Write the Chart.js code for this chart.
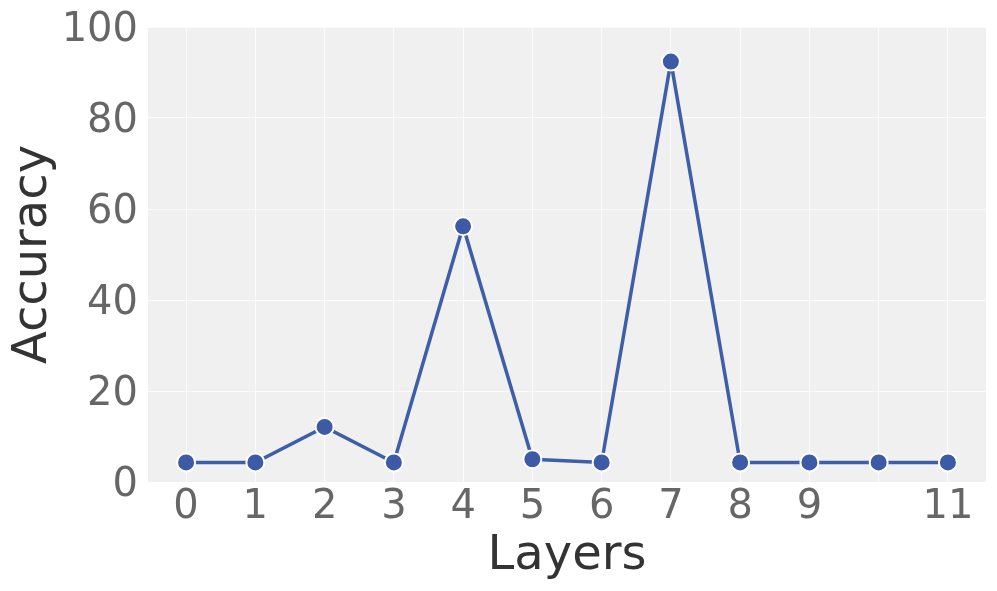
<!DOCTYPE html>
<html>
<head>
<meta charset="utf-8">
<script src="https://cdn.jsdelivr.net/npm/chart.js@4.4.0/dist/chart.umd.min.js"></script>
<style>
  html, body { margin: 0; padding: 0; background: #fff; }
  #wrap { width: 997px; height: 591px; position: relative; }
</style>
</head>
<body>
<div id="wrap"><canvas id="chart"></canvas></div>
<script>
/* ── data ── */
const layers   = [0, 1, 2, 3, 4, 5, 6, 7, 8, 9, 10, 11];
const accuracy = [4.3, 4.3, 12.1, 4.3, 56.2, 5.0, 4.3, 92.4, 4.3, 4.3, 4.3, 4.3];
const xTicks   = [0, 1, 2, 3, 4, 5, 6, 7, 8, 9, 10, 11];
const xHidden  = [10];            // label not printed in the original
const yTicks   = [0, 20, 40, 60, 80, 100];

const FONT = "'DejaVu Sans', sans-serif";

/* plot background */
const bgPlugin = {
  id: 'plotBg',
  beforeDraw(chart) {
    const { ctx, chartArea: a } = chart;
    ctx.save();
    ctx.fillStyle = '#f0f0f0';
    ctx.fillRect(a.left, a.top, a.right - a.left, a.bottom - a.top);
    ctx.restore();
  }
};

new Chart(document.getElementById('chart'), {
  type: 'line',
  data: {
    datasets: [{
      data: layers.map((x, i) => ({ x, y: accuracy[i] })),
      borderColor: '#3f5ea8',
      borderWidth: 3.5,
      pointRadius: 9,
      pointHoverRadius: 9,
      pointBackgroundColor: '#3c5aa6',
      pointBorderColor: '#ffffff',
      pointBorderWidth: 2,
      tension: 0,
      clip: false,
    }]
  },
  options: {
    responsive: true, maintainAspectRatio: false, animation: false,
    layout: { padding: { top: 27, right: 10, left: 0, bottom: 0 } },
    plugins: { legend: { display: false }, tooltip: { enabled: false } },
    scales: {
      x: {
        type: 'linear', min: -0.55, max: 11.55,
        afterBuildTicks: s => { s.ticks = xTicks.map(v => ({ value: v })); },
        afterFit: s => { s.height = 109; s.paddingLeft = 0; s.paddingRight = 0; },
        grid: { color: 'rgba(255,255,255,0.75)', lineWidth: 1, drawTicks: false },
        border: { display: false },
        ticks: {
          padding: 2, maxRotation: 0, autoSkip: false,
          color: '#666666', font: { family: FONT, size: 40 },
          callback: v => xHidden.includes(v) ? '' : String(v)
        },
        title: {
          display: true, text: 'Layers', color: '#333333',
          font: { family: FONT, size: 48 }, padding: { top: 0, bottom: 6 }
        }
      },
      y: {
        min: 0, max: 100,
        afterBuildTicks: s => { s.ticks = yTicks.map(v => ({ value: v })); },
        afterFit: s => { s.width = 148; s.paddingTop = 0; s.paddingBottom = 0; },
        grid: { color: 'rgba(255,255,255,0.75)', lineWidth: 1, drawTicks: false },
        border: { display: false },
        ticks: { padding: 10, labelOffset: 4, color: '#666666', font: { family: FONT, size: 40 } },
        title: {
          display: true, text: 'Accuracy', color: '#333333',
          font: { family: FONT, size: 48 }, padding: { top: 5, bottom: 0 }
        }
      }
    }
  },
  plugins: [bgPlugin]
});
</script>
</body>
</html>
